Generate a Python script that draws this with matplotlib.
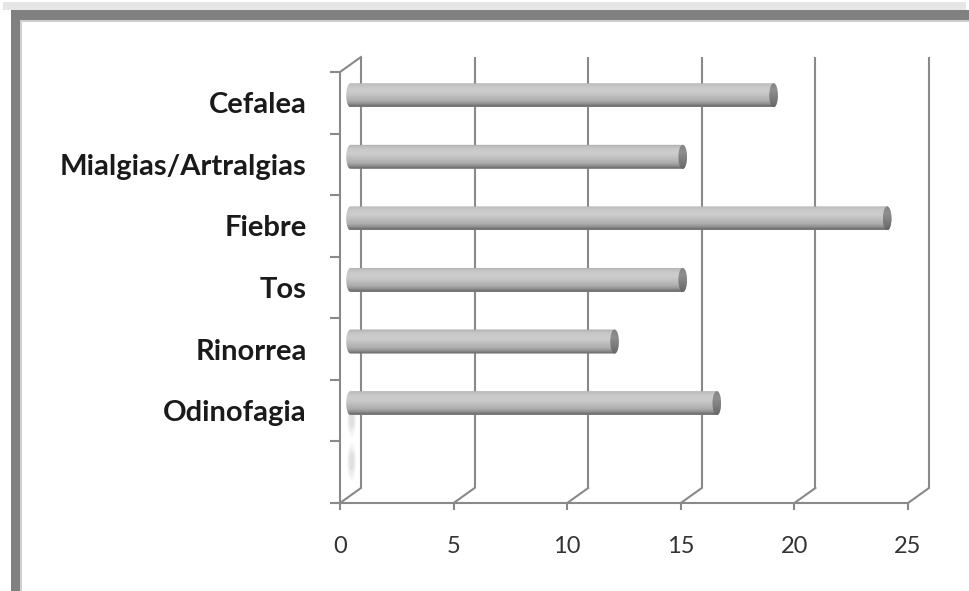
import numpy as np
import matplotlib
matplotlib.use("Agg")
import matplotlib.pyplot as plt
from matplotlib.patches import Rectangle, Ellipse, PathPatch
from matplotlib.path import Path

# symptoms (top to bottom) and number of cases
sintomas = ["Cefalea", "Mialgias/Artralgias", "Fiebre", "Tos", "Rinorrea", "Odinofagia", ""]
casos = [19, 15, 24, 15, 12, 16.5, 0]
ticks_x = [0, 5, 10, 15, 20, 25]

W, H = 970, 591
fig = plt.figure(figsize=(W / 100, H / 100), dpi=100)
fig.patch.set_facecolor("white")

# frame around the chart area (pixel boxes -> figure fractions)
def px_rect(x0, y0, x1, y1, color):
    fig.patches.append(Rectangle((x0 / W, 1 - y1 / H), (x1 - x0) / W, (y1 - y0) / H,
                                 transform=fig.transFigure, facecolor=color,
                                 edgecolor="none", zorder=0))

px_rect(3, 2, 966, 10, "#e6e6e6")
px_rect(11, 10, 970, 20, "#808080")
px_rect(11, 10, 20, 591, "#808080")
px_rect(20, 20, 970, 22, "#cfcfcf")
px_rect(20, 20, 22, 591, "#cfcfcf")

n = len(sintomas)
ax = fig.add_axes([340 / W, (H - 503) / H, 568 / W, 431 / H])
ax.set_xlim(0, 25)
ax.set_ylim(n - 0.5, -0.5)
ax.set_facecolor("none")

grid_c = "#898989"
lw = 1.5

# depth of the 3d box, in data units
px_x = ax.bbox.width / 25
px_y = ax.bbox.height / n
dx = 21 / px_x
dy = 15 / px_y

for s in ["top", "right"]:
    ax.spines[s].set_visible(False)
for s in ["left", "bottom"]:
    ax.spines[s].set_color(grid_c)
    ax.spines[s].set_linewidth(lw)

ax.set_xticks(ticks_x)
ax.set_xticklabels([str(t) for t in ticks_x])
ax.set_yticks(range(n))
ax.set_yticklabels(sintomas)
ax.set_yticks(np.arange(-0.5, n), minor=True)
ax.tick_params(axis="x", length=5, width=lw, color=grid_c, pad=19,
               labelsize=17, labelcolor="#333333")
ax.tick_params(axis="y", which="major", length=0, pad=24, labelsize=21)
ax.tick_params(axis="y", which="minor", length=7, width=lw, color=grid_c)
for lab in ax.get_yticklabels():
    lab.set_fontweight("bold")
    lab.set_fontfamily("Lato")
    lab.set_color("#1a1a1a")
for lab in ax.get_xticklabels():
    lab.set_fontfamily("Lato")

# back wall gridlines and floor diagonals
bottom, top = n - 0.5, -0.5
for t in ticks_x:
    ax.plot([t + dx, t + dx], [top - dy, bottom - dy], color=grid_c, lw=lw,
            clip_on=False, zorder=1, solid_capstyle="butt")
    ax.plot([t, t + dx], [bottom, bottom - dy], color=grid_c, lw=lw,
            clip_on=False, zorder=1)
ax.plot([0, dx], [top, top - dy], color=grid_c, lw=lw, clip_on=False, zorder=1)

# cylinder shading, top to bottom
rows = np.linspace(0, 1, 64)
body = np.interp(rows, [0, 0.06, 0.2, 0.38, 0.55, 0.75, 0.88, 0.96, 1.0],
                 [0.62, 0.73, 0.79, 0.80, 0.75, 0.68, 0.56, 0.43, 0.50])
cap = np.interp(rows, [0, 0.3, 0.6, 1.0], [0.50, 0.56, 0.50, 0.40])

h = 0.39            # cylinder thickness
rx = 4.3 / px_x     # half-width of the end ellipses
th = np.linspace(0, np.pi, 40)

for i, v in enumerate(casos):
    yc = i - dy / 2
    x0 = dx / 2
    if v <= 0:
        # flat disc left by an empty category
        for yy in [yc - 0.05, yc - 0.75]:
            for k, a in zip([1.0, 0.75, 0.5], [0.07, 0.09, 0.12]):
                ax.add_patch(Ellipse((x0 + 0.05, yy), 2.2 * rx * k, 0.6 * k,
                                     facecolor="#8c8c8c", edgecolor="none",
                                     alpha=a, zorder=3))
        continue
    # outer edges span the value: left edge at x0 - rx, right edge at x0 - rx + v
    x1 = x0 - 2 * rx + v
    left = np.column_stack([x0 - rx * np.sin(th), yc - h / 2 * np.cos(th)])
    right = np.column_stack([x1 + rx * np.sin(th), yc + h / 2 * np.cos(th)])
    verts = np.vstack([left, right, left[:1]])
    outline = PathPatch(Path(verts, closed=True), transform=ax.transData,
                        facecolor="none", edgecolor="none")
    ax.add_patch(outline)
    im = ax.imshow(body[:, None], cmap="gray", vmin=0, vmax=1, aspect="auto",
                   extent=[x0 - rx, x1 + rx, yc + h / 2, yc - h / 2],
                   interpolation="bilinear", zorder=4)
    im.set_clip_path(outline)
    end = Ellipse((x1, yc), 2 * rx, h, transform=ax.transData,
                  facecolor="none", edgecolor="none")
    ax.add_patch(end)
    im2 = ax.imshow(cap[:, None], cmap="gray", vmin=0, vmax=1, aspect="auto",
                    extent=[x1 - rx, x1 + rx, yc + h / 2, yc - h / 2],
                    interpolation="bilinear", zorder=5)
    im2.set_clip_path(end)

ax.set_xlim(0, 25)
ax.set_ylim(n - 0.5, -0.5)

fig.savefig("out.png", dpi=100)
